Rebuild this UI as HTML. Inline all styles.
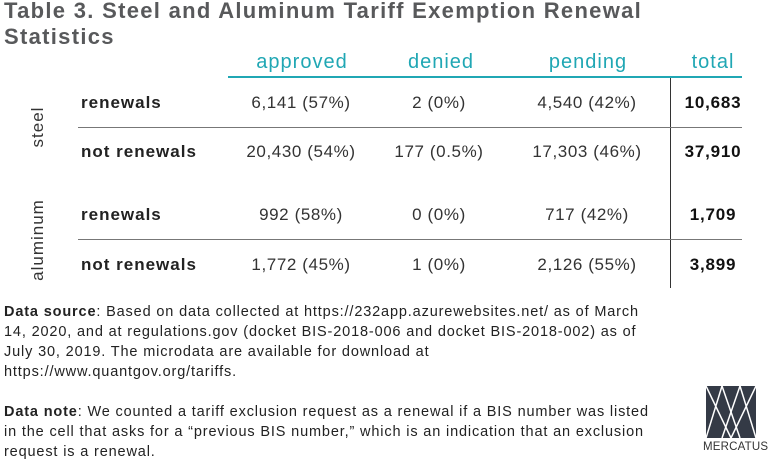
<!DOCTYPE html>
<html><head><meta charset="utf-8"><style>
body{margin:0;width:768px;height:456px;background:#fff;position:relative;overflow:hidden;font-family:"Liberation Sans",sans-serif;}
.a{position:absolute;white-space:nowrap;}
.t{font-weight:bold;font-size:22px;color:#58595b;left:4px;letter-spacing:1.3px}
.h{color:#20a7b4;font-size:20px;top:51px;transform:translateX(-50%);letter-spacing:1px}
.c{font-size:17px;color:#333;transform:translateX(-50%);letter-spacing:0.6px}
.l{font-size:17px;font-weight:bold;color:#222;left:81px;letter-spacing:1px}
.b{font-size:17px;font-weight:bold;color:#111;transform:translateX(-50%);letter-spacing:0.8px}
.r{font-size:17px;color:#333;transform:translate(-50%,-50%) rotate(-90deg);letter-spacing:1px}
.f{font-size:14.5px;color:#222;left:4px;line-height:20px;letter-spacing:0.85px}
</style></head><body>
<div class="a t" style="top:-2px">Table 3. Steel and Aluminum Tariff Exemption Renewal</div>
<div class="a t" style="top:24px">Statistics</div>
<div class="a h" style="left:302px">approved</div>
<div class="a h" style="left:441px">denied</div>
<div class="a h" style="left:588px">pending</div>
<div class="a h" style="left:713px">total</div>
<div class="a" style="left:228px;top:76px;width:514px;height:2px;background:#20a7b4"></div>
<div class="a" style="left:670px;top:78px;width:1px;height:210px;background:#333"></div>
<div class="a" style="left:78px;top:127px;width:664px;height:1px;background:#777"></div>
<div class="a" style="left:78px;top:239px;width:664px;height:1px;background:#777"></div>
<div class="a r" style="left:38px;top:127px">steel</div>
<div class="a r" style="left:38px;top:240px">aluminum</div>

<div class="a l" style="top:93px">renewals</div>
<div class="a c" style="left:301px;top:93px">6,141 (57%)</div>
<div class="a c" style="left:439px;top:93px">2 (0%)</div>
<div class="a c" style="left:587px;top:93px">4,540 (42%)</div>
<div class="a b" style="left:713px;top:93px">10,683</div>

<div class="a l" style="top:142px">not renewals</div>
<div class="a c" style="left:301px;top:142px">20,430 (54%)</div>
<div class="a c" style="left:439px;top:142px">177 (0.5%)</div>
<div class="a c" style="left:587px;top:142px">17,303 (46%)</div>
<div class="a b" style="left:713px;top:142px">37,910</div>

<div class="a l" style="top:205px">renewals</div>
<div class="a c" style="left:301px;top:205px">992 (58%)</div>
<div class="a c" style="left:439px;top:205px">0 (0%)</div>
<div class="a c" style="left:587px;top:205px">717 (42%)</div>
<div class="a b" style="left:713px;top:205px">1,709</div>

<div class="a l" style="top:255px">not renewals</div>
<div class="a c" style="left:301px;top:255px">1,772 (45%)</div>
<div class="a c" style="left:439px;top:255px">1 (0%)</div>
<div class="a c" style="left:587px;top:255px">2,126 (55%)</div>
<div class="a b" style="left:713px;top:255px">3,899</div>

<div class="a f" style="top:302px"><b>Data source</b>: Based on data collected at https://232app.azurewebsites.net/ as of March<br>14, 2020, and at regulations.gov (docket BIS-2018-006 and docket BIS-2018-002) as of<br>July 30, 2019. The microdata are available for download at<br>https://www.quantgov.org/tariffs.</div>
<div class="a f" style="top:402px"><b>Data note</b>: We counted a tariff exclusion request as a renewal if a BIS number was listed<br>in the cell that asks for a “previous BIS number,” which is an indication that an exclusion<br>request is a renewal.</div>

<svg class="a" style="left:706px;top:386px" width="50" height="52" viewBox="0 0 50 52">
<rect x="0" y="0" width="50" height="52" fill="#343a46"/>
<g stroke="#fff" stroke-width="1.5" fill="none">
<line x1="0" y1="0" x2="25" y2="52"/><line x1="50" y1="0" x2="25" y2="52"/>
<line x1="16" y1="0" x2="0" y2="52"/><line x1="16" y1="0" x2="34" y2="52"/>
<line x1="34" y1="0" x2="50" y2="52"/><line x1="34" y1="0" x2="16" y2="52"/>
</g></svg>
<div class="a" style="left:703px;top:441px;font-size:11.5px;color:#333;letter-spacing:0.2px">MERCATUS</div>
</body></html>
